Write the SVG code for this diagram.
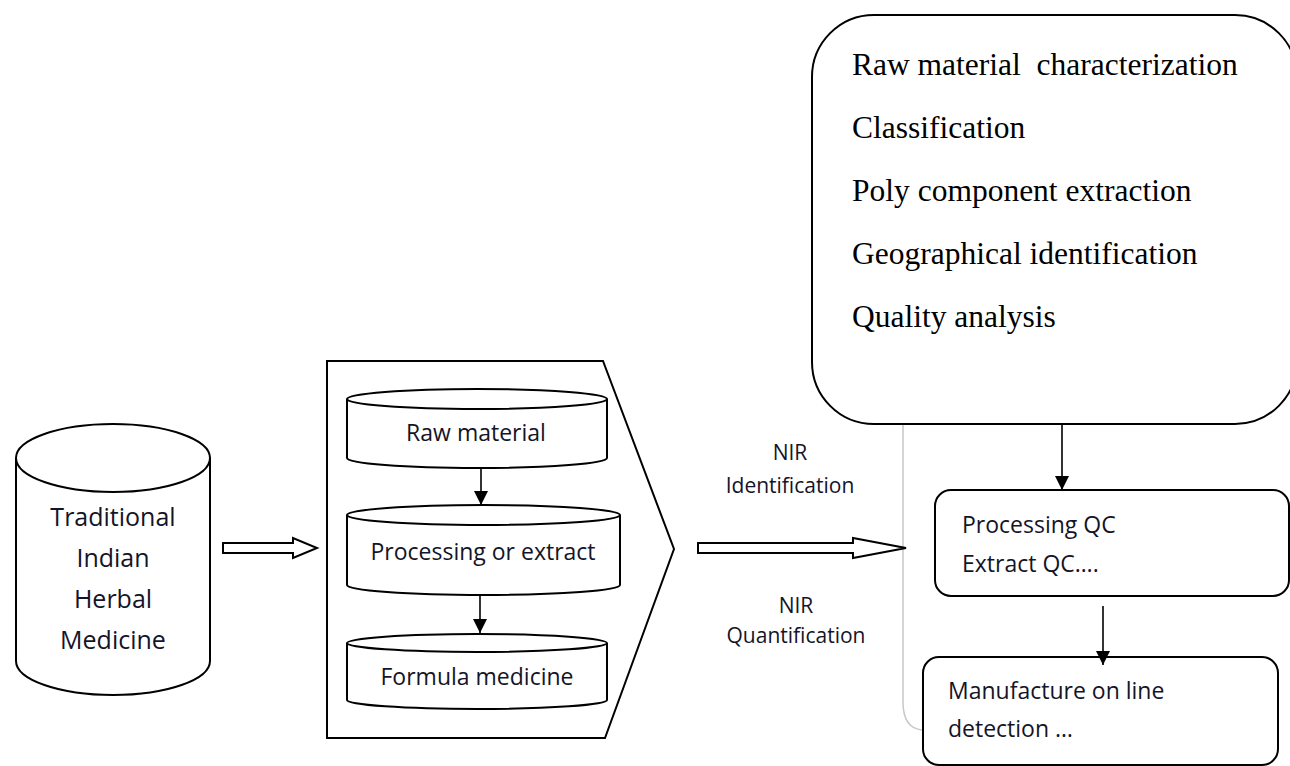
<svg xmlns="http://www.w3.org/2000/svg" width="1290" height="766" viewBox="0 0 1290 766">
<style>
.sh{fill:#fff;stroke:#000;stroke-width:2}
.ln{fill:none;stroke:#000;stroke-width:1.6}
.sans{font-family:"Open Sans","Noto Sans",sans-serif;fill:#141428}
.serif{font-family:"Liberation Serif","Times New Roman",serif;font-size:31.5px;fill:#000}
</style>
<defs>
<marker id="ah" viewBox="0 0 10 10" refX="10" refY="5" markerWidth="14" markerHeight="14" markerUnits="userSpaceOnUse" orient="auto">
<path d="M0,0 L10,5 L0,10 z" fill="#000"/>
</marker>
</defs>
<rect width="1290" height="766" fill="#fff"/>

<g id="gray-frame">
<path d="M903,424 V702 Q903,728 922,730" fill="none" stroke="#c8c8c8" stroke-width="1.5"/>
</g>

<g id="source">
<path class="sh" d="M16,458 V661 A97,34 0 0 0 210,661 V458"/>
<ellipse class="sh" cx="113" cy="458" rx="97" ry="34"/>
<g class="sans" font-size="25" text-anchor="middle">
<text x="113" y="526">Traditional</text>
<text x="113" y="567">Indian</text>
<text x="113" y="608">Herbal</text>
<text x="113" y="649">Medicine</text>
</g>
</g>

<g id="stages">
<polygon class="sh" points="327,361 603,361 674,549 605,738 327,738"/>
<g id="raw">
<path class="sh" d="M347,399 V458 A130,10 0 0 0 607,458 V399"/>
<ellipse class="sh" cx="477" cy="399" rx="130" ry="10"/>
<text class="sans" font-size="23" x="476" y="441" text-anchor="middle">Raw material</text>
</g>
<g id="processing">
<path class="sh" d="M347,515 V585 A136.5,10 0 0 0 620,585 V515"/>
<ellipse class="sh" cx="483.5" cy="515" rx="136.5" ry="10"/>
<text class="sans" font-size="23" x="483" y="560" text-anchor="middle">Processing or extract</text>
</g>
<g id="formula">
<path class="sh" d="M347,643 V700 A130,9 0 0 0 607,700 V643"/>
<ellipse class="sh" cx="477" cy="643" rx="130" ry="9"/>
<text class="sans" font-size="23" x="477" y="685" text-anchor="middle">Formula medicine</text>
</g>
</g>

<g id="methods">
<rect class="sh" x="812" y="15" width="485" height="409" rx="62" ry="62"/>
<text class="serif" x="852" y="75" xml:space="preserve">Raw material  characterization</text>
<text class="serif" x="852" y="138">Classification</text>
<text class="serif" x="852" y="201">Poly component extraction</text>
<text class="serif" x="852" y="264">Geographical identification</text>
<text class="serif" x="852" y="327">Quality analysis</text>
</g>

<g id="qc">
<rect class="sh" x="935" y="490" width="354" height="106" rx="16" ry="16"/>
<text class="sans" font-size="23" x="962" y="533">Processing QC</text>
<text class="sans" font-size="23" x="962" y="572">Extract QC….</text>
</g>

<g id="manufacture">
<rect class="sh" x="923" y="657" width="355" height="108" rx="16" ry="16"/>
<text class="sans" font-size="23" x="948" y="699">Manufacture on line</text>
<text class="sans" font-size="23" x="948" y="737">detection …</text>
</g>

<g id="labels" class="sans" font-size="21" text-anchor="middle">
<text x="790" y="460">NIR</text>
<text x="790" y="493">Identification</text>
<text x="796" y="613">NIR</text>
<text x="796" y="643">Quantification</text>
</g>

<g id="connectors">
<polygon class="sh" points="223,543 293,543 293,538 317,548 293,558 293,553 223,553"/>
<polygon class="sh" points="698,543 853,543 853,538 906,548 853,558 853,553 698,553"/>
<line class="ln" x1="481" y1="468" x2="481" y2="505" marker-end="url(#ah)"/>
<line class="ln" x1="480" y1="595" x2="480" y2="633" marker-end="url(#ah)"/>
<line class="ln" x1="1062" y1="424" x2="1062" y2="490" marker-end="url(#ah)"/>
<line class="ln" x1="1103" y1="606" x2="1103" y2="665" marker-end="url(#ah)"/>
</g>
</svg>
